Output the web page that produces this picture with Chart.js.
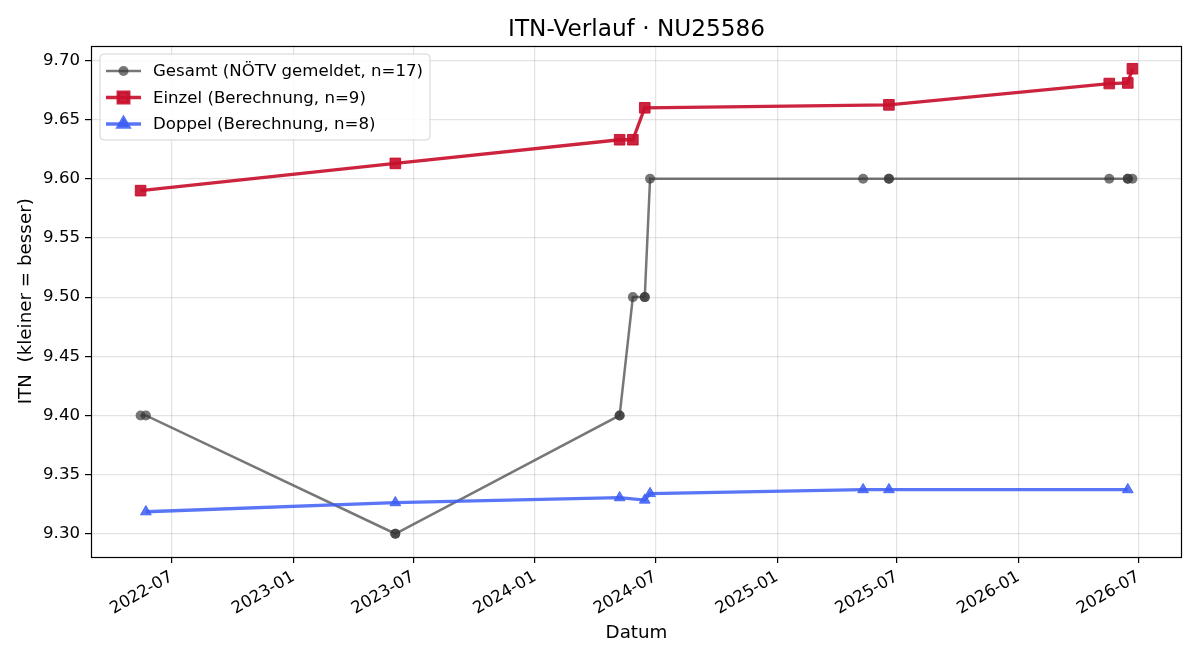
<!DOCTYPE html>
<html><head><meta charset="utf-8">
<script src="https://cdn.jsdelivr.net/npm/chart.js@4.4.1/dist/chart.umd.min.js"></script>
<style>html,body{margin:0;padding:0;background:#fff}#wrap{width:1200px;height:660px}</style>
</head><body><div id="wrap"><canvas id="c" width="1200" height="660"></canvas></div>
<script>
const chartTitle = 'ITN-Verlauf · NU25586';
const xTitle = 'Datum';
const yTitle = 'ITN  (kleiner = besser)';

const gesamtLabel = 'Gesamt (NÖTV gemeldet, n=17)';
const gesamtDates = ['2022-05-15','2022-05-23','2023-06-04','2023-06-04','2024-05-08','2024-05-08','2024-05-28','2024-06-15','2024-06-15','2024-06-23','2025-05-11','2025-06-19','2025-06-19','2026-05-18','2026-06-15','2026-06-15','2026-06-22'];
const gesamtValues = [9.40,9.40,9.30,9.30,9.40,9.40,9.50,9.50,9.50,9.60,9.60,9.60,9.60,9.60,9.60,9.60,9.60];

const einzelLabel = 'Einzel (Berechnung, n=9)';
const einzelDates = ['2022-05-15','2023-06-04','2024-05-08','2024-05-28','2024-06-15','2025-06-19','2026-05-18','2026-06-15','2026-06-22'];
const einzelValues = [9.590,9.613,9.633,9.633,9.660,9.6625,9.6805,9.681,9.693];

const doppelLabel = 'Doppel (Berechnung, n=8)';
const doppelDates = ['2022-05-23','2023-06-04','2024-05-08','2024-06-15','2024-06-23','2025-05-11','2025-06-19','2026-06-15'];
const doppelValues = [9.3186,9.3263,9.3305,9.3285,9.3340,9.3373,9.3373,9.3373];

const xTickDates = ['2022-07-01','2023-01-01','2023-07-01','2024-01-01','2024-07-01','2025-01-01','2025-07-01','2026-01-01','2026-07-01'];
const yTickValues = [9.30,9.35,9.40,9.45,9.50,9.55,9.60,9.65,9.70];

function toDay(s){const p=s.split('-').map(Number);return Date.UTC(p[0],p[1]-1,p[2])/86400000;}
function fmtMonth(v){const d=new Date(Math.round(v)*86400000);return d.getUTCFullYear()+'-'+String(d.getUTCMonth()+1).padStart(2,'0');}
function pts(dates, vals){return dates.map((d,i)=>({x:toDay(d),y:vals[i]}));}

const allX = [].concat(gesamtDates,einzelDates,doppelDates).map(toDay);
const allY = [].concat(gesamtValues,einzelValues,doppelValues);
const xMinD = Math.min(...allX), xMaxD = Math.max(...allX);
const yMinD = Math.min(...allY), yMaxD = Math.max(...allY);
const xm = (xMaxD-xMinD)*0.05, ym = (yMaxD-yMinD)*0.05;

const FONT = "'DejaVu Sans', sans-serif";
const gray = 'rgba(55,55,55,0.68)';
const red = 'rgba(200,16,46,0.92)';
const blue = 'rgba(61,94,245,0.85)';

const titlePlugin = {
  id:'titlePlugin',
  afterDraw(chart){
    const a=chart.chartArea, c=chart.ctx;
    c.save(); c.fillStyle='#000'; c.font='23.2px '+FONT; c.textAlign='center'; c.textBaseline='alphabetic';
    c.fillText(chartTitle,(a.left+a.right)/2,36);
    c.restore();
  }
};
const frame = {
  id:'frame',
  afterDatasetsDraw(chart){
    const a=chart.chartArea, c=chart.ctx;
    c.save(); c.strokeStyle='#000'; c.lineWidth=1.2;
    c.strokeRect(Math.round(a.left)+0.5, Math.round(a.top)+0.5, Math.round(a.right-a.left)-1, Math.round(a.bottom-a.top)-1);
    c.restore();
  }
};
const legendBox = {
  id:'legendBox',
  afterDraw(chart){
    const c=chart.ctx;
    const x0=100,y0=54,w=330,h=86,r=4;
    c.save();
    c.beginPath();
    c.moveTo(x0+r,y0);c.lineTo(x0+w-r,y0);c.arcTo(x0+w,y0,x0+w,y0+r,r);
    c.lineTo(x0+w,y0+h-r);c.arcTo(x0+w,y0+h,x0+w-r,y0+h,r);
    c.lineTo(x0+r,y0+h);c.arcTo(x0,y0+h,x0,y0+h-r,r);
    c.lineTo(x0,y0+r);c.arcTo(x0,y0,x0+r,y0,r);c.closePath();
    c.fillStyle='rgba(255,255,255,0.85)';c.fill();
    c.strokeStyle='#d3d3d3';c.lineWidth=1;c.stroke();
    const rows=[71,97.5,124];
    [0,1,2].forEach((di,k)=>{
      const ds=chart.data.datasets[di];
      const yy=rows[k];
      c.strokeStyle=ds.borderColor;c.lineWidth=ds.borderWidth;
      c.beginPath();c.moveTo(106,yy);c.lineTo(141,yy);c.stroke();
      c.fillStyle=ds.pointBackgroundColor;c.strokeStyle=ds.pointBorderColor;
      Chart.helpers.drawPoint(c,{pointStyle:ds.pointStyle,radius:ds.pointRadius,rotation:0,borderWidth:ds.pointBorderWidth},123.5,yy);
      c.fillStyle='#000';c.font='16.6px '+FONT;c.textBaseline='middle';c.textAlign='left';
      c.fillText(ds.label,153,yy+1);
    });
    c.restore();
  }
};

new Chart(document.getElementById('c'),{
  type:'line',
  data:{datasets:[
    {label:gesamtLabel,data:pts(gesamtDates,gesamtValues),borderColor:gray,borderWidth:2.5,pointStyle:'circle',pointRadius:5,pointBackgroundColor:gray,pointBorderColor:gray,pointBorderWidth:0,order:3,tension:0},
    {label:einzelLabel,data:pts(einzelDates,einzelValues),borderColor:red,borderWidth:3.3,pointStyle:'rect',pointRadius:7.5,pointBackgroundColor:red,pointBorderColor:red,pointBorderWidth:1,order:2,tension:0},
    {label:doppelLabel,data:pts(doppelDates,doppelValues),borderColor:blue,borderWidth:3.3,pointStyle:'triangle',pointRadius:6.2,pointBackgroundColor:blue,pointBorderColor:blue,pointBorderWidth:1,order:1,tension:0}
  ]},
  options:{
    responsive:false,devicePixelRatio:1,animation:false,
    layout:{padding:{left:0,right:18,top:45.5,bottom:0}},
    plugins:{legend:{display:false},tooltip:{enabled:false},title:{display:false}},
    scales:{
      x:{type:'linear',min:xMinD-xm,max:xMaxD+xm,
        afterBuildTicks(s){s.ticks=xTickDates.map(d=>({value:toDay(d)}));},
        afterFit(s){s.height=103;},
        ticks:{callback:v=>fmtMonth(v),minRotation:30,maxRotation:30,autoSkip:false,color:'#000',padding:4,font:{family:FONT,size:16.6}},
        grid:{color:'rgba(176,176,176,0.35)',lineWidth:1.2,tickColor:'#000',tickLength:6,tickWidth:1.2},
        border:{display:false},
        title:{display:true,text:xTitle,color:'#000',font:{family:FONT,size:18.3,lineHeight:1.2},padding:{top:0,bottom:16}}
      },
      y:{type:'linear',min:yMinD-ym,max:yMaxD+ym,
        afterBuildTicks(s){s.ticks=yTickValues.map(v=>({value:v}));},
        afterFit(s){s.width=91;},
        ticks:{callback:v=>Number(v).toFixed(2),color:'#000',padding:5,font:{family:FONT,size:16.6}},
        grid:{color:'rgba(176,176,176,0.35)',lineWidth:1.2,tickColor:'#000',tickLength:6,tickWidth:1.2},
        border:{display:false},
        title:{display:true,text:yTitle,color:'#000',font:{family:FONT,size:18.3,lineHeight:1.2},padding:{top:15,bottom:0}}
      }
    }
  },
  plugins:[frame,legendBox,titlePlugin]
});
</script></body></html>
